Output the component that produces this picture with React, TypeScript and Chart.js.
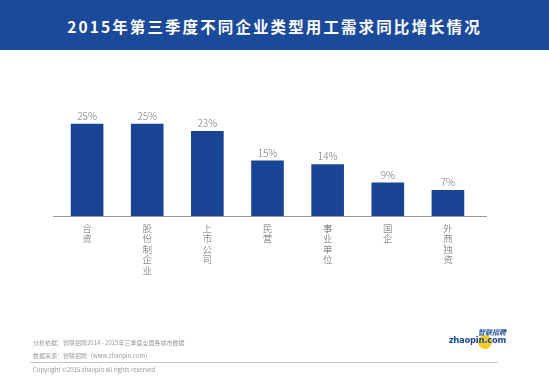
import React, { useEffect, useRef } from "react";
import { Chart, registerables } from "chart.js";

Chart.register(...registerables);

const title = "2015年第三季度不同企业类型用工需求同比增长情况";
const categories = ["合资", "股份制企业", "上市公司", "民营", "事业单位", "国企", "外商独资"];
const growth = [25, 25, 23, 15, 14, 9, 7];
const sourceLine1 = "分析依据：智联招聘2014 - 2015年三季度全国各城市数据";
const sourceLine2 = "数据来源：智联招聘（www.zhaopin.com）";
const copyright = "Copyright ©2015 zhaopin all rights reserved";

const FONT = "'Noto Sans CJK SC', 'Noto Sans', sans-serif";

export default function App() {
  const ref = useRef<HTMLCanvasElement | null>(null);

  useEffect(() => {
    document.body.style.margin = "0";
    const canvas = ref.current;
    if (!canvas) return;

    const axisLine = {
      id: "axisLine",
      afterDatasetsDraw(chart: any) {
        const { ctx, chartArea } = chart;
        ctx.save();
        ctx.strokeStyle = "#9a9a9a";
        ctx.lineWidth = 1;
        ctx.beginPath();
        ctx.moveTo(chartArea.left - 4, chartArea.bottom + 0.5);
        ctx.lineTo(chartArea.right + 9, chartArea.bottom + 0.5);
        ctx.stroke();
        ctx.restore();
      },
    };

    const valueLabels = {
      id: "valueLabels",
      afterDatasetsDraw(chart: any) {
        const { ctx } = chart;
        const meta = chart.getDatasetMeta(0);
        ctx.save();
        ctx.fillStyle = "#777777";
        ctx.font = `300 10px ${FONT}`;
        ctx.textAlign = "center";
        ctx.textBaseline = "bottom";
        meta.data.forEach((bar: any, i: number) => {
          ctx.fillText(`${growth[i]}%`, bar.x, bar.y - 3);
        });
        ctx.restore();
      },
    };

    const chart = new Chart(canvas, {
      type: "bar",
      data: {
        labels: categories.map((c) => c.split("")),
        datasets: [
          {
            data: growth,
            backgroundColor: "#1a4594",
            borderWidth: 0,
            barThickness: 32,
          },
        ],
      },
      options: {
        animation: false,
        responsive: false,
        maintainAspectRatio: false,
        layout: { padding: { left: 57, right: 71, top: 0, bottom: 83 } },
        plugins: {
          legend: { display: false },
          tooltip: { enabled: false },
          title: { display: false },
        },
        scales: {
          x: {
            grid: { display: false, drawTicks: false },
            border: { display: false },
            ticks: {
              color: "#666666",
              font: { family: FONT, size: 9.5, weight: "300", lineHeight: 1.1 },
              padding: 7,
              autoSkip: false,
              maxRotation: 0,
              minRotation: 0,
            },
            afterFit: (scale: any) => {
              scale.height = 80;
            },
          },
          y: {
            display: false,
            min: 0,
            max: (25 * 216) / 92,
          },
        },
      },
      plugins: [axisLine, valueLabels],
    });
    return () => chart.destroy();
  }, []);

  return (
    <div style={{ position: "relative", width: 549, height: 379, background: "#ffffff", overflow: "hidden", fontFamily: FONT }}>
      <div
        style={{
          position: "absolute",
          left: 0,
          top: 0,
          width: 549,
          height: 50,
          background: "#1b4a9a",
          color: "#ffffff",
          fontWeight: 700,
          fontSize: 15.5,
          letterSpacing: 2.1,
          lineHeight: "52px",
          textAlign: "center",
          fontFamily: FONT,
        }}
      >
        {title}
      </div>
      <canvas ref={ref} width={549} height={379} style={{ position: "absolute", left: 0, top: 0, width: 549, height: 379 }} />
      <div style={{ position: "absolute", left: 33, top: 336, fontSize: 6, color: "#999999", lineHeight: "13px" }}>
        <div>{sourceLine1}</div>
        <div>{sourceLine2}</div>
      </div>
      <div style={{ position: "absolute", left: 30, top: 362, width: 468, height: 1, background: "#c4c4c4" }} />
      <div style={{ position: "absolute", left: 33, top: 365, fontSize: 6, color: "#999999", lineHeight: "9px" }}>
        {copyright}
      </div>
      <div style={{ position: "absolute", left: 466, top: 328, width: 40, height: 24 }}>
        <div style={{ position: "absolute", left: 12, top: 7, width: 14, height: 14, borderRadius: 7, background: "#f5c400", opacity: 0.85 }} />
        <div style={{ position: "absolute", right: 0, top: 0, fontSize: 7, fontWeight: 700, color: "#1b4a9a", lineHeight: "8px", fontStyle: "italic" }}>智联招聘</div>
        <div style={{ position: "absolute", right: 0, top: 8, fontSize: 8.5, fontWeight: 700, color: "#1b4a9a", lineHeight: "9px", fontFamily: "'DejaVu Sans', sans-serif", letterSpacing: -0.3 }}>zhaopin.com</div>
      </div>
    </div>
  );
}
